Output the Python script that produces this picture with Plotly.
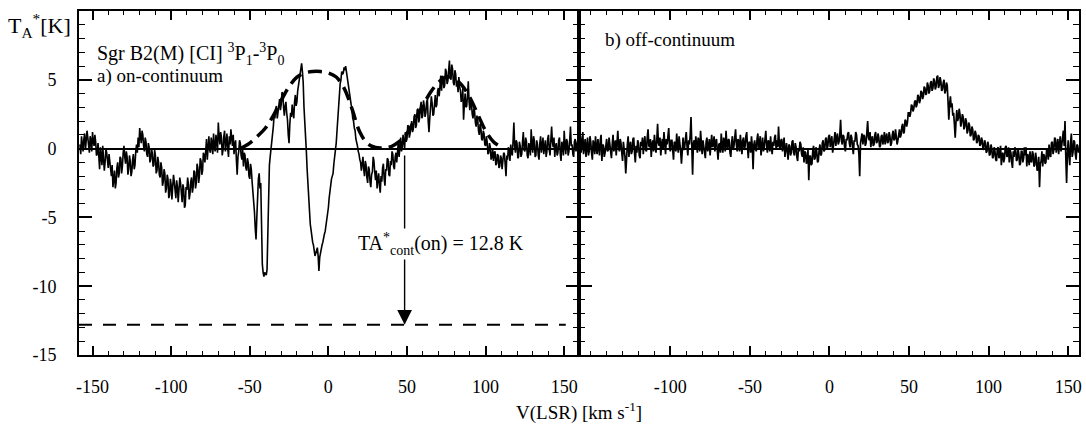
import plotly.graph_objects as go

# ---------------- data ----------------
# a) on-continuum spectrum, 0.5 km/s channels from -158 to +159.5 km/s
v_on = [k * 0.5 for k in range(-316, 320)]
T_on = [
    0.3, -0.4, 0.9, 0.2, -0.2, 0.7, 1.1, -0.1, 0.4, 1.3, 0.8, 0.0, -0.3, 0.9, 0.6, -0.2, 1.2, 0.5, 0.2, 1.0,          # -158
    0.5, -0.5, -0.4, 0.4, -0.8, -1.5, 0.1, -0.5, -1.2, 0.2, -0.6, -1.6, -1.0, 0.0, -0.3, -1.1, -1.4, -0.4, -0.9, -1.7,  # -148
    -2.0, -1.2, -2.8, -2.2, -1.6, -2.9, -2.5, -1.4, -1.0, -2.1, -1.8, -0.6, -0.7, -1.8, -1.3, -0.3, 0.2, -0.6, -1.1, -0.2,  # -138
    -0.6, -1.9, -1.5, -0.5, -0.9, -2.0, -1.7, -0.8, -0.4, -1.5, -1.2, -0.2, 0.3, -0.3, 0.8, 0.1, 1.5, 0.9, 0.4, 1.3,   # -128
    1.0, 0.2, -0.2, 0.8, 0.5, -0.4, -0.6, 0.4, 0.1, -1.0, -0.8, 0.0, -0.3, -1.3, -1.2, -0.1, -0.5, -1.8, -1.6, -0.6,    # -118
    -1.0, -1.9, -2.1, -1.0, -1.4, -2.7, -2.4, -1.5, -1.8, -3.2, -2.9, -1.9, -2.2, -3.6, -3.4, -2.2, -2.6, -3.7, -3.0, -1.9,  # -108
    -2.4, -3.1, -3.6, -2.3, -2.8, -3.9, -3.2, -2.1, -2.5, -3.5, -3.9, -2.6, -2.9, -4.3, -4.1, -2.8, -3.0, -2.1, -2.6, -3.7,  # -98
    -3.3, -2.4, -2.1, -3.2, -2.8, -1.6, -1.7, -2.9, -2.5, -1.1, -1.4, -2.5, -2.0, -0.7, -0.9, -1.9, -1.6, -0.3, -0.5, -1.0,  # -88
    0.2, 0.7, -0.8, 0.3, 0.9, -0.1, -0.3, 0.8, 0.4, -0.4, 1.1, 0.1, -0.2, 1.0, 0.6, -0.3, 1.9, 0.9, 0.3, 1.2,          # -78
    0.8, -0.5, -0.1, 0.9, 1.3, -0.2, 0.5, 1.1, 0.0, -0.6, 0.9, 0.3, 1.4, 0.4, 0.2, 1.0, -0.4, 0.3, 0.6, -0.8,          # -68
    -1.9, -0.6, -0.2, 0.6, 0.4, -0.5, -0.8, -0.1, -1.3, -0.3, -0.5, -1.4, -1.6, -0.7, -1.0, -2.0, -2.2, -1.1, -1.5, -2.4,  # -58
    -3.0, -3.9, -4.6, -5.8, -6.6, -5.0, -3.2, -2.2, -1.8, -2.9, -2.5, -6.0, -8.4, -9.0, -9.3, -9.0, -9.1, -9.2, -8.8, -5.5,  # -48
    -2.0, -1.2, -0.6, -0.1, 0.4, 1.0, 1.6, 2.4, 2.2, 2.9, 3.1, 2.2, 2.6, 3.3, 3.6, 2.8, 3.2, 4.1, 4.0, 3.0,            # -38
    2.4, 3.1, 3.4, 2.6, 2.1, 1.0, 0.4, 1.8, 2.6, 2.3, 3.2, 2.6, 2.2, 3.4, 3.9, 3.1, 3.4, 4.2, 4.6, 4.8,                # -28
    5.2, 5.8, 6.2, 5.6, 4.8, 3.0, 1.5, 0.6, -0.2, -1.5, -2.6, -3.8, -4.8, -5.5, -5.9, -6.5, -6.8, -7.0, -7.4, -7.8,    # -18
    -7.6, -7.3, -7.2, -7.8, -8.9, -7.9, -7.5, -7.1, -7.0, -6.8, -6.4, -6.2, -6.0, -5.6, -5.2, -4.8, -4.3, -3.6, -3.1, -2.5,  # -8
    -2.2, -2.0, -1.8, -1.1, -0.6, -0.2, 0.4, 1.3, 2.3, 3.3, 4.1, 4.7, 5.0, 5.6, 5.4, 5.5, 5.9, 5.7, 6.0, 5.6,          # 2
    5.2, 4.9, 4.6, 4.0, 3.6, 3.3, 2.8, 2.2, 2.0, 1.5, 1.3, 0.7, 0.5, 0.2, -0.2, -0.4, -0.8, -1.0, -1.6, -0.9,          # 12
    -0.6, -1.5, -2.0, -0.9, -1.2, -2.1, -2.5, -1.3, -1.5, -2.4, -2.8, -1.9, -1.7, -0.6, -0.9, -1.7, -2.3, -1.6, -2.9, -2.2,  # 22
    -1.8, -2.7, -3.2, -2.0, -2.4, -1.4, -1.1, -2.2, -2.7, -1.5, -1.6, -0.7, -0.8, -1.9, -2.0, -0.9, -1.2, -0.2, -0.4, -1.3,  # 32
    -1.5, -0.6, -0.3, -1.0, 0.2, 0.5, -0.6, 0.3, 0.8, -0.2, 0.1, 1.0, 0.6, 0.0, 1.2, 0.5, 0.7, 1.7, 1.6, 0.8,          # 42
    1.1, 1.8, 2.0, 1.2, 1.4, 2.3, 2.5, 1.5, 1.7, 2.8, 2.9, 1.9, 2.2, 3.0, 3.4, 2.2, 2.4, 3.5, 3.1, 2.3,                # 52
    2.6, 3.4, 3.6, 2.0, 1.2, 2.2, 2.8, 3.8, 3.3, 2.4, 2.5, 3.6, 3.9, 3.0, 3.2, 4.2, 4.4, 3.8, 4.7, 5.3,                # 62
    4.2, 5.3, 5.1, 4.4, 4.6, 5.8, 5.6, 4.7, 4.9, 5.9, 6.4, 5.2, 5.0, 6.1, 5.8, 4.8, 4.6, 5.7, 5.4, 4.5,                # 72
    4.8, 4.1, 5.2, 4.5, 4.2, 3.4, 3.6, 4.4, 2.1, 3.2, 4.0, 3.0, 3.1, 3.9, 4.9, 3.4, 2.8, 3.6, 3.3, 2.5,                # 82
    2.2, 2.9, 2.7, 1.9, 1.6, 2.4, 2.1, 1.3, 1.0, 1.8, 1.5, 0.7, 0.6, 1.3, 1.1, 0.3, 0.2, 0.9, 0.5, -0.4,               # 92
    -0.3, 0.4, 0.1, -0.8, -0.6, 0.0, -0.9, -0.3, -0.2, -1.2, -1.1, -0.4, -0.5, -1.4, -1.3, -0.5, -0.7, -1.5, -1.0, -0.3,  # 102
    -0.4, -1.2, -2.0, -0.5, -0.8, 0.1, -0.2, -0.9, 0.3, -0.3, -0.5, 0.6, 1.9, 0.2, -0.3, 0.6, 0.4, -0.7, -0.6, 0.5,    # 112
    0.2, -0.6, -0.4, 0.5, 1.2, -0.1, -0.2, 0.8, 0.5, -0.5, -0.7, 0.4, 0.1, -0.5, 1.4, 0.3, -0.3, 0.9, 0.6, -0.6,       # 122
    -0.5, 0.6, 0.3, -0.5, -0.8, 0.4, 0.9, -0.3, 0.2, 0.8, -0.4, 0.5, 0.6, -0.6, -0.2, 0.7, 1.0, -0.1, -0.5, 0.6,       # 132
    1.6, 0.5, 0.1, 0.8, -0.6, 0.2, 0.4, -0.5, -0.3, 0.6, 0.8, -0.4, -0.9, 0.5, 0.2, -0.5, 1.3, 0.3, -0.4, 0.7,         # 142
    0.5, -0.5, -0.2, 0.6, 1.6, 0.2, 0.3, -0.4, -0.6, 0.5, 0.7, -0.2, 0.1, 0.6, -0.3, 0.4,                              # 152
]

# b) off-continuum spectrum, 0.5 km/s channels from -157 to +156.5 km/s
v_off = [k * 0.5 for k in range(-314, 314)]
T_off = [
    0.4, 0.9, -0.3, 0.5, 1.2, -0.4, 0.2, 0.7, -0.6, 0.1, 0.8, -0.5, -0.2, 0.9, 0.5, -0.3, -0.8, 0.6, 0.3, -0.4,        # -157
    0.9, 0.0, -0.4, 0.7, 0.1, -0.5, 0.6, 1.0, -0.9, 0.3, 0.2, -0.6, -0.3, 0.4, 0.7, -0.2, -0.1, 0.8, 0.4, -0.3,         # -147
    -0.7, 0.3, 1.0, -0.2, 0.2, 0.6, -0.5, 0.4, 1.3, 0.1, -0.2, 0.7, 0.4, -0.3, -0.9, 0.5, 0.1, -0.6, -1.8, -0.2,        # -137
    0.3, 0.9, -0.6, 0.2, 0.5, -0.4, -0.2, 0.7, 0.8, -0.3, -1.0, 0.2, -0.3, 0.6, 0.4, -0.5, -0.7, 0.5, 0.2, 0.8,         # -127
    -0.4, 0.4, 0.9, -0.1, -0.2, 0.8, 1.4, 0.2, 0.1, 0.7, -0.6, 0.3, 0.6, -0.2, 1.0, 0.3, -0.3, 0.6, 1.8, 0.4,           # -117
    0.2, 0.8, -0.5, 0.3, 0.7, 0.0, 1.2, 0.4, -0.4, 0.7, 0.3, 0.9, 1.5, 0.1, -0.2, 0.6, 0.6, -0.1, -0.8, 0.5,            # -107
    0.4, -0.2, 1.1, 0.3, -0.3, 0.9, 0.5, -0.2, -1.1, 0.4, 0.8, -0.1, 0.1, 0.7, 1.2, 0.2, -0.5, 0.6, 0.3, 1.0,           # -97
    2.3, 0.2, -1.9, 0.4, 0.6, -0.1, 0.9, 0.3, -0.3, 0.8, 0.5, -0.2, 1.3, 0.4, -0.4, 0.6, 0.2, -0.3, -0.7, 0.5,          # -87
    0.8, -0.2, 0.1, 0.7, -0.5, 0.3, 1.0, 0.1, 0.3, 0.9, -0.2, 0.5, 0.7, -0.1, -0.8, 0.3, 0.4, -0.3, 1.1, 0.2,           # -77
    -0.3, 0.8, 0.5, -0.2, 1.3, 0.3, -0.1, 0.7, 0.6, -0.3, -0.6, 0.4, 0.9, -0.1, 0.2, 0.8, 1.4, 0.3, -0.2, 0.7,          # -67
    0.5, -0.2, 1.0, 0.3, -0.4, 0.6, 0.8, -0.1, 0.2, 0.9, 1.2, 0.1, -0.7, 0.5, 0.4, -0.3, 0.9, 0.2, -1.5, 0.3,           # -57
    0.6, 0.0, -0.2, 0.7, 1.1, -0.1, 0.3, 0.9, -0.5, 0.4, 0.8, -0.2, 0.1, 0.7, 1.3, 0.2, -0.3, 0.6, 0.5, -0.2,           # -47
    0.9, 0.1, -0.4, 0.5, 0.2, 0.8, 1.0, -0.1, 0.6, 0.1, 1.6, 0.3, -0.1, 0.6, 0.7, -0.2, 0.3, 0.8, -0.6, 0.2,            # -37
    0.4, -0.2, -0.8, 0.3, 0.2, -0.5, -0.3, 0.5, 0.6, -0.3, -0.5, 0.4, 0.1, -0.6, -0.9, 0.0, -0.2, 0.5, 0.3, -0.4,       # -27
    -0.6, 0.1, -1.0, -0.2, -0.3, -1.1, -0.8, -0.1, -2.3, -0.6, -0.5, -1.2, -1.1, -0.2, 0.2, -0.8, -0.7, 0.1, -0.2, -1.0,  # -17
    -0.9, -0.1, 0.3, -0.5, -0.4, 0.4, 0.6, -0.2, -0.1, 0.7, 0.8, 0.0, 0.2, 0.9, 1.0, 0.1, 0.4, 0.9, -0.3, 0.5,          # -7
    0.7, 1.2, 0.2, 0.8, 1.1, 0.3, 0.5, 1.0, 2.1, 0.6, 0.3, 1.0, 0.9, 0.1, -0.2, 0.7, 0.6, 1.1, 1.2, 0.4,                # 3
    0.1, 1.0, 0.8, 0.1, -0.4, 0.6, 0.5, 1.2, 1.0, 0.3, 0.2, -0.4, -2.0, 0.4, 0.7, 1.1, 0.3, 1.0, 0.9, 0.2,              # 13
    0.4, 1.1, 2.0, 0.8, 0.6, 1.2, 0.1, 0.7, 0.9, 0.2, 0.3, 1.0, 1.2, 0.4, 0.5, 1.1, 0.8, 0.1, 0.2, 0.9,                 # 23
    1.0, 0.3, 0.6, 1.2, 0.3, 0.8, 1.1, 0.4, 0.5, 1.2, 0.9, 0.2, 0.4, 1.0, 1.3, 0.6, 0.7, 1.4, 1.0, 0.3,                 # 33
    0.6, 1.2, 1.4, 0.8, 1.0, 1.6, 1.8, 1.1, 1.2, 2.1, 2.0, 1.6, 1.9, 2.6, 2.6, 2.3, 2.6, 3.2, 3.1, 2.7,                 # 43
    2.9, 3.4, 3.5, 3.0, 3.2, 3.9, 3.8, 3.3, 3.5, 4.2, 4.1, 3.6, 3.8, 4.5, 4.4, 3.9, 4.0, 4.8, 4.6, 4.0,                 # 53
    4.2, 4.8, 4.9, 4.2, 4.4, 5.1, 4.9, 4.3, 4.5, 5.2, 5.3, 4.4, 4.6, 5.2, 4.9, 4.2, 4.3, 4.8, 5.0, 4.0,                 # 63
    4.2, 4.8, 4.6, 3.4, 2.1, 3.2, 3.8, 3.0, 3.3, 2.4, 2.6, 1.8, 0.8, 1.9, 2.8, 2.0, 2.2, 2.9, 2.5, 1.6,                 # 73
    1.9, 2.5, 2.3, 1.4, 1.6, 2.2, 2.0, 1.1, 1.3, 1.9, 1.7, 0.9, 1.0, 1.6, 1.4, 0.6, 0.7, 1.3, 1.1, 0.4,                 # 83
    0.5, 1.0, 0.9, 0.2, 0.3, 0.8, 0.6, -0.1, 0.1, 0.6, 0.4, -0.3, -0.2, 0.5, 0.2, -0.5, -0.4, 0.3, 0.0, -0.7,           # 93
    -0.6, 0.1, -0.2, -0.8, -0.9, 0.0, 0.1, -0.7, -0.5, 0.2, -1.2, -0.4, -0.3, -1.0, -0.7, 0.1, 0.2, -0.6, -0.5, 0.1,    # 103
    -1.0, -0.1, -0.3, -1.0, -1.4, -0.2, -0.6, 0.1, -0.1, -0.9, -0.8, 0.0, -0.4, -1.2, -1.1, -0.2, -0.2, -1.0, -0.7, 0.1,  # 113
    -0.5, 0.1, -1.3, -0.4, -0.6, -1.2, -0.2, -0.9, -1.0, -0.2, -0.4, -1.3, -1.2, -0.3, -0.7, -1.6, -1.5, -0.6, -2.8, -1.1,  # 123
    -0.9, -0.2, -1.3, -0.4, -0.5, -1.1, -1.0, 0.0, -0.2, -0.8, 0.3, -0.5, -0.6, 0.4, 0.5, -0.4, -0.1, 0.8, 0.7, -0.3,   # 133
    0.2, 0.7, -0.4, 0.3, 0.9, -0.2, 0.3, 0.9, 1.3, 0.2, 2.0, -0.6, -2.5, -0.4, 0.6, -0.5, -1.2, 0.4, 1.1, -0.6,         # 143
    -0.3, 0.6, 0.5, -0.4, -0.8, 0.3, 0.2, -0.3,                                                                        # 153
]

# dashed two-component model drawn over the on-continuum spectrum
model_v = [-56, -50, -45, -40, -35, -30, -25, -20, -15, -10, -5, 0, 5, 10, 15,
           20, 25, 30, 35, 40, 45, 50, 55, 60, 65, 70, 75, 80, 85, 90, 95, 100,
           105, 110]
model_T = [0.0, 0.4, 0.9, 1.5, 2.4, 3.5, 4.5, 5.2, 5.5, 5.6, 5.6, 5.5, 5.2, 4.4,
           2.9, 1.2, 0.35, 0.08, 0.05, 0.15, 0.5, 1.1, 2.1, 3.1, 4.1, 4.8, 5.2,
           5.1, 4.6, 3.7, 2.5, 1.3, 0.5, 0.1]

# continuum level and arrow
cont_level = -12.8
cont_line_end_v = 151
arrow_v = 48.5
arrow_top_T = -0.4

# ticks (labels use a plain hyphen, as in the reference)
x_ticks_a = [-150, -100, -50, 0, 50, 100, 150]
x_ticks_b = [-100, -50, 0, 50, 100, 150]
y_ticks = [-15, -10, -5, 0, 5]
x_labels_a = [str(v) for v in x_ticks_a]
x_labels_b = [str(v) for v in x_ticks_b]
y_labels = [str(v) for v in y_ticks]

# ---------------- layout geometry ----------------
W, H = 1086, 424
ML, MR, MT, MB = 79, 4, 11, 69
PW, PH = W - ML - MR, H - MT - MB
SPLIT = (580 - ML) / PW

def px(x):
    return (x - ML) / PW

def py(y):
    return (H - MB - y) / PH

FONT = "Liberation Serif"
BLACK = "black"

fig = go.Figure()

fig.add_trace(go.Scatter(x=v_on, y=T_on, mode="lines", line=dict(color=BLACK, width=1.6),
                         xaxis="x", yaxis="y", showlegend=False, hoverinfo="skip"))
fig.add_trace(go.Scatter(x=model_v, y=model_T, mode="lines",
                         line=dict(color=BLACK, width=3.5, dash="14px,7px", shape="spline"),
                         xaxis="x", yaxis="y", showlegend=False, hoverinfo="skip"))
fig.add_trace(go.Scatter(x=v_off, y=T_off, mode="lines", line=dict(color=BLACK, width=1.7),
                         xaxis="x2", yaxis="y2", showlegend=False, hoverinfo="skip"))

axis_common = dict(
    showgrid=False, showline=True, linecolor=BLACK, linewidth=2, mirror="ticks",
    ticks="inside", tickcolor=BLACK, tickwidth=1.5,
    tickfont=dict(family=FONT, size=18, color=BLACK),
)

fig.update_layout(
    width=W, height=H,
    margin=dict(l=ML, r=MR, t=MT, b=MB),
    paper_bgcolor="white", plot_bgcolor="white",
    xaxis=dict(domain=[0, SPLIT], range=[-158.6, 159.1], tickvals=x_ticks_a, ticktext=x_labels_a,
               ticklen=9,
               minor=dict(ticks="inside", dtick=10, ticklen=4, tickcolor=BLACK, tickwidth=1.3),
               zeroline=False, anchor="y", ticklabelstandoff=14, **axis_common),
    xaxis2=dict(domain=[SPLIT, 1], range=[-157.7, 156.8], tickvals=x_ticks_b, ticktext=x_labels_b,
                ticklen=9,
                minor=dict(ticks="inside", dtick=10, ticklen=4, tickcolor=BLACK, tickwidth=1.3),
                zeroline=False, anchor="y2", ticklabelstandoff=14, **axis_common),
    yaxis=dict(range=[-15, 10], tickvals=y_ticks, ticktext=y_labels, ticklen=13, anchor="x",
               minor=dict(ticks="inside", dtick=1, ticklen=6, tickcolor=BLACK, tickwidth=1.3),
               zeroline=True, zerolinecolor=BLACK, zerolinewidth=1.5, ticklabelstandoff=17,
               **axis_common),
    yaxis2=dict(range=[-15, 10], tickvals=y_ticks, ticklen=13, anchor="x2", showticklabels=False,
                minor=dict(ticks="inside", dtick=1, ticklen=6, tickcolor=BLACK, tickwidth=1.3),
                zeroline=True, zerolinecolor=BLACK, zerolinewidth=1.5, **axis_common),
)

# dashed continuum level
fig.add_shape(type="line", xref="x", yref="y", x0=-158.6, x1=cont_line_end_v, y0=cont_level, y1=cont_level,
              line=dict(color=BLACK, width=2, dash="13px,11px"))

annots = []
# arrow from baseline to continuum level
annots.append(dict(xref="x", yref="y", axref="x", ayref="y", x=arrow_v, y=cont_level,
                   ax=arrow_v, ay=arrow_top_T, showarrow=True, arrowhead=2, arrowsize=2.1,
                   arrowwidth=1.4, arrowcolor=BLACK, standoff=0, text=""))
txt = dict(font=dict(family=FONT, size=19, color=BLACK), showarrow=False)
annots.append(dict(xref="paper", yref="paper", x=px(357), y=py(244), xanchor="left", yanchor="middle",
                   text="TA<sup>*</sup><sub>cont</sub>(on) = 12.8 K", bgcolor="white",
                   font=dict(family=FONT, size=20, color=BLACK), showarrow=False))
annots.append(dict(xref="paper", yref="paper", x=px(6), y=py(26), xanchor="left", yanchor="middle",
                   text="T<sub>A</sub><sup>*</sup>[K]",
                   font=dict(family=FONT, size=22, color=BLACK), showarrow=False))
annots.append(dict(xref="paper", yref="paper", x=px(95), y=py(54), xanchor="left", yanchor="middle",
                   text="Sgr B2(M) [CI] <sup>3</sup>P<sub>1</sub>-<sup>3</sup>P<sub>0</sub>",
                   font=dict(family=FONT, size=20, color=BLACK), showarrow=False))
annots.append(dict(xref="paper", yref="paper", x=px(95), y=py(76), xanchor="left", yanchor="middle",
                   text="a) on-continuum", **txt))
annots.append(dict(xref="paper", yref="paper", x=px(605), y=py(40), xanchor="left", yanchor="middle",
                   text="b) off-continuum", **txt))
annots.append(dict(xref="paper", yref="paper", x=px(580), y=py(411), xanchor="center", yanchor="middle",
                   text="V(LSR) [km s<sup>-1</sup>]", **txt))
fig.update_layout(annotations=annots)

fig.write_html("out.html", config={"displayModeBar": False},
               post_script="document.body.style.margin='0px';")
